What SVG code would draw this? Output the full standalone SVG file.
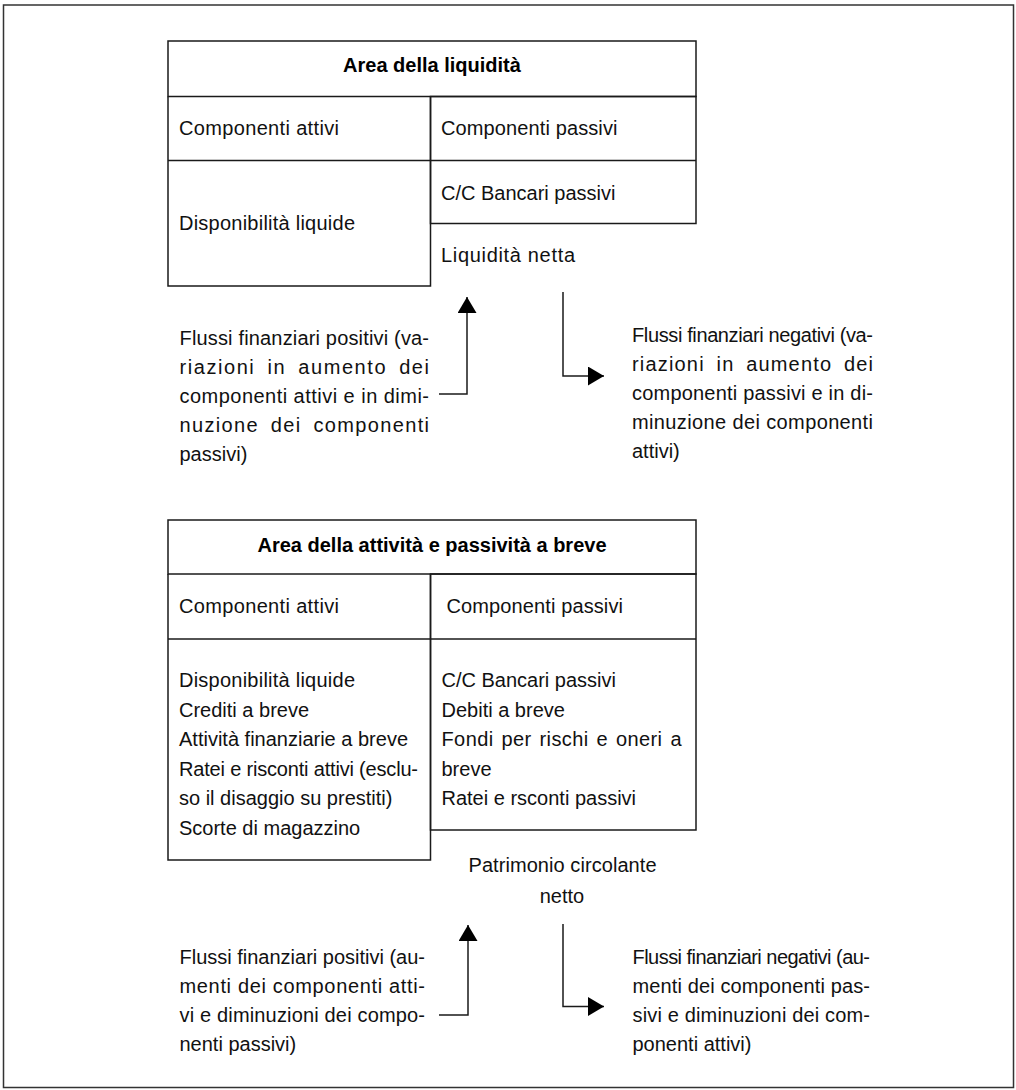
<svg xmlns="http://www.w3.org/2000/svg" width="1016" height="1090" viewBox="0 0 1016 1090">
<defs>
<style>
.ln{fill:none;stroke:#1a1a1a;stroke-width:1.5}
.t{font-family:"Liberation Sans",Arial,sans-serif;font-size:20px;fill:#111}
.b{font-family:"Liberation Sans",Arial,sans-serif;font-size:20px;font-weight:bold;fill:#000}
</style>
<marker id="ah" markerUnits="userSpaceOnUse" markerWidth="18" markerHeight="20" refX="16" refY="9.5" orient="auto">
<path d="M0,0 L16,9.5 L0,19 Z" fill="#000"/>
</marker>
</defs>
<rect x="0" y="0" width="1016" height="1090" fill="#fff"/>
<rect x="3.5" y="5" width="1010" height="1082.5" fill="none" stroke="#333" stroke-width="1.5"/>

<g id="area-liquidita">
<rect class="ln" x="168" y="41" width="528" height="55.5"/>
<text class="b" x="432" y="72" text-anchor="middle">Area della liquidità</text>
</g>
<g id="liq-attivi">
<path class="ln" d="M168,96.5 V286 H430.5 V96.5"/>
<line class="ln" x1="168" y1="160.5" x2="430.5" y2="160.5"/>
<text class="t" x="179" y="135" textLength="160" lengthAdjust="spacing">Componenti attivi</text>
<text class="t" x="179" y="230" textLength="176" lengthAdjust="spacing">Disponibilità liquide</text>
</g>
<g id="liq-passivi">
<rect class="ln" x="430.5" y="96.5" width="265.5" height="127"/>
<line class="ln" x1="430.5" y1="160.5" x2="696" y2="160.5"/>
<text class="t" x="441" y="135" textLength="176.5" lengthAdjust="spacing">Componenti passivi</text>
<text class="t" x="441" y="200">C/C Bancari passivi</text>
</g>
<g id="liq-netta">
<text class="t" x="441" y="262" textLength="134" lengthAdjust="spacing">Liquidità netta</text>
</g>
<g id="liq-flussi-pos">
<text class="t" x="179.5" y="345" textLength="249.5" lengthAdjust="spacing">Flussi finanziari positivi (va-</text>
<text class="t" x="179.5" y="374" word-spacing="5" textLength="249.5" lengthAdjust="spacing">riazioni in aumento dei</text>
<text class="t" x="179.5" y="403" textLength="249.5" lengthAdjust="spacing">componenti attivi e in dimi-</text>
<text class="t" x="179.5" y="432" word-spacing="5" textLength="249.5" lengthAdjust="spacing">nuzione dei componenti</text>
<text class="t" x="179.5" y="461">passivi)</text>
</g>
<g id="liq-flussi-neg">
<text class="t" x="632" y="342" textLength="241" lengthAdjust="spacing">Flussi finanziari negativi (va-</text>
<text class="t" x="632" y="371" word-spacing="5" textLength="241" lengthAdjust="spacing">riazioni in aumento dei</text>
<text class="t" x="632" y="400" textLength="241" lengthAdjust="spacing">componenti passivi e in di-</text>
<text class="t" x="632" y="429" textLength="241" lengthAdjust="spacing">minuzione dei componenti</text>
<text class="t" x="632" y="458">attivi)</text>
</g>

<g id="area-breve">
<rect class="ln" x="168" y="520" width="528" height="54"/>
<text class="b" x="432" y="552" text-anchor="middle">Area della attività e passività a breve</text>
</g>
<g id="breve-attivi">
<path class="ln" d="M168,574 V860 H430.5 V574"/>
<line class="ln" x1="168" y1="639" x2="430.5" y2="639"/>
<text class="t" x="179" y="613" textLength="160" lengthAdjust="spacing">Componenti attivi</text>
<text class="t" x="179" y="687" textLength="176" lengthAdjust="spacing">Disponibilità liquide</text>
<text class="t" x="179" y="716.5">Crediti a breve</text>
<text class="t" x="179" y="746">Attività finanziarie a breve</text>
<text class="t" x="179" y="775.5" textLength="239" lengthAdjust="spacing">Ratei e risconti attivi (esclu-</text>
<text class="t" x="179" y="805">so il disaggio su prestiti)</text>
<text class="t" x="179" y="834.5">Scorte di magazzino</text>
</g>
<g id="breve-passivi">
<rect class="ln" x="430.5" y="574" width="265.5" height="256"/>
<line class="ln" x1="430.5" y1="639" x2="696" y2="639"/>
<text class="t" x="446.5" y="613" textLength="176.5" lengthAdjust="spacing">Componenti passivi</text>
<text class="t" x="441.5" y="687">C/C Bancari passivi</text>
<text class="t" x="441.5" y="716.5">Debiti a breve</text>
<text class="t" x="441.5" y="746" word-spacing="2" textLength="240" lengthAdjust="spacing">Fondi per rischi e oneri a</text>
<text class="t" x="441.5" y="775.5">breve</text>
<text class="t" x="441.5" y="805">Ratei e rsconti passivi</text>
</g>
<g id="patrimonio-netto">
<text class="t" x="562.5" y="872" text-anchor="middle" textLength="188" lengthAdjust="spacing">Patrimonio circolante</text>
<text class="t" x="562" y="903" text-anchor="middle">netto</text>
</g>
<g id="breve-flussi-pos">
<text class="t" x="179.5" y="964" textLength="245.5" lengthAdjust="spacing">Flussi finanziari positivi (au-</text>
<text class="t" x="179.5" y="993" textLength="245.5" lengthAdjust="spacing">menti dei componenti atti-</text>
<text class="t" x="179.5" y="1022" textLength="245.5" lengthAdjust="spacing">vi e diminuzioni dei compo-</text>
<text class="t" x="179.5" y="1051">nenti passivi)</text>
</g>
<g id="breve-flussi-neg">
<text class="t" x="632.5" y="964" textLength="237.5" lengthAdjust="spacing">Flussi finanziari negativi (au-</text>
<text class="t" x="632.5" y="993" textLength="237.5" lengthAdjust="spacing">menti dei componenti pas-</text>
<text class="t" x="632.5" y="1022" textLength="237.5" lengthAdjust="spacing">sivi e diminuzioni dei com-</text>
<text class="t" x="632.5" y="1051">ponenti attivi)</text>
</g>

<g id="connectors">
<path class="ln" d="M439,394 H467 V297" marker-end="url(#ah)"/>
<path class="ln" d="M563,292 V376 H604" marker-end="url(#ah)"/>
<path class="ln" d="M439,1015 H468 V925" marker-end="url(#ah)"/>
<path class="ln" d="M563,924 V1006.5 H604" marker-end="url(#ah)"/>
</g>
</svg>
